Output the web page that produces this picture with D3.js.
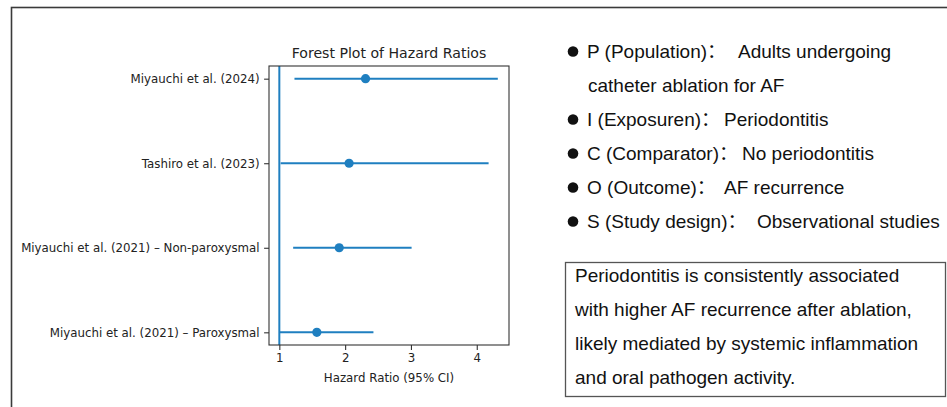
<!DOCTYPE html>
<html>
<head>
<meta charset="utf-8">
<script src="https://cdn.jsdelivr.net/npm/d3@7"></script>
<style>
  html, body { margin: 0; padding: 0; background: #fff; }
  svg { display: block; }
</style>
</head>
<body>
<svg id="chart" width="947" height="407"></svg>
<script>
// ---- data ----
const studies = [
  "Miyauchi et al. (2024)",
  "Tashiro et al. (2023)",
  "Miyauchi et al. (2021) – Non-paroxysmal",
  "Miyauchi et al. (2021) – Paroxysmal"
];
const hr    = [2.31, 2.06, 1.91, 1.57];
const lower = [1.23, 1.02, 1.21, 1.01];
const upper = [4.32, 4.18, 3.01, 2.43];
const xTicks = [1, 2, 3, 4];
const refValue = 1;
const chartTitle = "Forest Plot of Hazard Ratios";
const xLabel = "Hazard Ratio (95% CI)";
const picoLabels = ["P (Population)：", "", "I (Exposuren)：", "C (Comparator)：", "O (Outcome)：", "S (Study design)："];
const picoValues = ["Adults undergoing", "catheter ablation for AF", "Periodontitis", "No periodontitis", "AF recurrence", "Observational studies"];
const picoBullet = [true, false, true, true, true, true];
const summaryLines = [
  "Periodontitis is consistently associated",
  "with higher AF recurrence after ablation,",
  "likely mediated by systemic inflammation",
  "and oral pathogen activity."
];

// ---- layout ----
const svg = d3.select("#chart");
const blue = "#1f7fc0";
const axL = 269, axR = 509, axT = 66, axB = 345;
const mplFont = "DejaVu Sans, sans-serif";
const sideFont = "'Liberation Sans', Arial, 'Noto Sans CJK SC', sans-serif";
const valueX = [738, 588, 724, 742, 724, 757]; // text layout for the PICO values

// outer frame (cut off at right/bottom)
svg.append("rect")
  .attr("x", 11.5).attr("y", 7.5).attr("width", 960).attr("height", 420)
  .attr("fill", "none").attr("stroke", "#3a3a3a").attr("stroke-width", 1.6);

const x = d3.scaleLinear().domain([0.843, 4.49]).range([axL, axR]);
const n = studies.length;
const y = d3.scaleLinear().domain([-0.15, n - 1 + 0.15]).range([axB, axT]);
const yPos = i => y(n - 1 - i);

const g = svg.append("g");

// reference line
g.append("line")
  .attr("x1", x(refValue)).attr("x2", x(refValue))
  .attr("y1", axT).attr("y2", axB)
  .attr("stroke", blue).attr("stroke-width", 2);

// error bars
g.selectAll("line.err").data(studies).join("line")
  .attr("class", "err")
  .attr("x1", (d, i) => x(lower[i])).attr("x2", (d, i) => x(upper[i]))
  .attr("y1", (d, i) => yPos(i)).attr("y2", (d, i) => yPos(i))
  .attr("stroke", blue).attr("stroke-width", 2);

g.selectAll("circle.pt").data(studies).join("circle")
  .attr("class", "pt")
  .attr("cx", (d, i) => x(hr[i])).attr("cy", (d, i) => yPos(i))
  .attr("r", 4.6).attr("fill", blue);

// axes spines
g.append("rect")
  .attr("x", axL).attr("y", axT).attr("width", axR - axL).attr("height", axB - axT)
  .attr("fill", "none").attr("stroke", "#333").attr("stroke-width", 1.1);

// x axis
const xAxis = d3.axisBottom(x).tickValues(xTicks).tickFormat(d3.format("d"))
  .tickSize(4.9).tickPadding(3.5);
const xg = svg.append("g").attr("transform", `translate(0,${axB})`).call(xAxis);
xg.select(".domain").remove();
xg.selectAll("line").attr("stroke", "#333").attr("stroke-width", 1.1);
xg.selectAll("text").attr("font-family", mplFont).attr("font-size", 11.8).attr("fill", "#222");

// y axis (categorical)
const yAxis = d3.axisLeft(y).tickValues(d3.range(n)).tickFormat(v => studies[n - 1 - v])
  .tickSize(4.9).tickPadding(4.5);
const yg = svg.append("g").attr("transform", `translate(${axL},0)`).call(yAxis);
yg.select(".domain").remove();
yg.selectAll("line").attr("stroke", "#333").attr("stroke-width", 1.1);
yg.selectAll("text").attr("font-family", mplFont).attr("font-size", 11.8).attr("fill", "#222");

// title & label
svg.append("text").attr("x", (axL + axR) / 2).attr("y", 58)
  .attr("text-anchor", "middle").attr("font-family", mplFont).attr("font-size", 14.1)
  .attr("fill", "#222").text(chartTitle);
svg.append("text").attr("x", (axL + axR) / 2).attr("y", 382)
  .attr("text-anchor", "middle").attr("font-family", mplFont).attr("font-size", 11.8)
  .attr("fill", "#222").text(xLabel);

// PICO list
const pico = svg.append("g");
const lineY = i => 58 + i * 34;
const rows = picoValues.map((v, i) => ({ i, label: picoLabels[i], value: v, bullet: picoBullet[i] }));
pico.selectAll("circle").data(rows.filter(r => r.bullet)).join("circle")
  .attr("cx", 573).attr("cy", r => lineY(r.i) - 6.5)
  .attr("r", 5.3).attr("fill", "#111");
pico.selectAll("text.lab").data(rows.filter(r => r.label)).join("text")
  .attr("class", "lab")
  .attr("x", 587).attr("y", r => lineY(r.i))
  .attr("font-family", sideFont).attr("font-size", 19).attr("fill", "#111")
  .text(r => r.label);
pico.selectAll("text.val").data(rows).join("text")
  .attr("class", "val")
  .attr("x", r => valueX[r.i]).attr("y", r => lineY(r.i))
  .attr("font-family", sideFont).attr("font-size", 19).attr("fill", "#111")
  .text(r => r.value);

// summary box
svg.append("rect")
  .attr("x", 565.5).attr("y", 262.5).attr("width", 380).attr("height", 134)
  .attr("fill", "none").attr("stroke", "#555").attr("stroke-width", 1.3);
svg.append("g").selectAll("text").data(summaryLines).join("text")
  .attr("x", 575).attr("y", (d, i) => 282 + i * 34)
  .attr("font-family", sideFont).attr("font-size", 19).attr("fill", "#111")
  .text(d => d);
</script>
</body>
</html>
